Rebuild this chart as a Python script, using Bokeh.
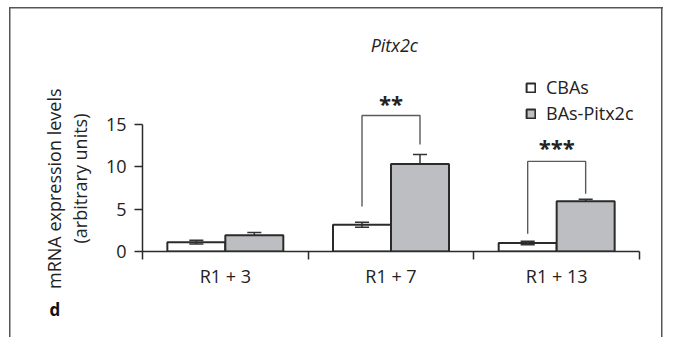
import numpy as np
from bokeh.plotting import figure
from bokeh.models import (Range1d, FixedTicker, Label, Legend, LegendItem, Title)
from bokeh.embed import file_html
from bokeh.resources import INLINE

# ---- data ----
categories = ["R1 + 3", "R1 + 7", "R1 + 13"]
cbas = [1.1, 3.15, 1.0]
cbas_err = [0.22, 0.3, 0.22]
bas = [1.9, 10.3, 5.9]
bas_err = [0.35, 1.12, 0.25]
y_ticks = [0, 5, 10, 15]
# significance brackets (per category): left foot, top, right foot, stars
sig_left = [None, 5.3, 2.1]
sig_top = [None, 16.0, 10.6]
sig_right = [None, 12.6, 6.8]
sig_text = ["", "**", "***"]
sig_label_y = [None, 17.5, 12.35]

FONT = "Open Sans"
BAR_W = 0.35
CAP = 0.085
GREY = "#bdbec1"
DARK = "#2b2b2b"
TXT = "#222222"

idx = np.arange(len(categories))
centers = idx + 0.5
x_c = centers - BAR_W / 2
x_b = centers + BAR_W / 2

frame_css = ("linear-gradient(#555,#555) 9px 7px / 1.5px 400px no-repeat, "
             "linear-gradient(#555,#555) 9px 7px / 654px 1.5px no-repeat, "
             "linear-gradient(#555,#555) 661px 7px / 1.5px 400px no-repeat, #ffffff")

p = figure(width=663, height=337, x_range=Range1d(0, 3), y_range=Range1d(0, 251 / 8.5),
           output_backend="svg", toolbar_location=None,
           min_border_left=142, min_border_right=24, min_border_top=0, min_border_bottom=86,
           styles={"background": frame_css})
p.grid.visible = False
p.outline_line_color = None
p.background_fill_color = None
p.border_fill_color = None

# ---- axes ----
yax = p.yaxis[0]
yax.ticker = FixedTicker(ticks=y_ticks, minor_ticks=[])
yax.bounds = (0, 15)
yax.major_tick_out = 8
yax.major_tick_in = 0
yax.minor_tick_line_color = None
yax.major_label_standoff = 8
yax.axis_line_color = DARK
yax.major_tick_line_color = DARK
yax.axis_line_width = 1.5
yax.major_tick_line_width = 1.5
yax.major_label_text_font = FONT
yax.major_label_text_font_size = "18px"
yax.major_label_text_color = TXT

xax = p.xaxis[0]
xax.ticker = FixedTicker(ticks=list(centers), minor_ticks=[0, 1, 2, 3])
xax.major_label_overrides = {float(c): lab for c, lab in zip(centers, categories)}
xax.major_tick_line_color = None
xax.major_tick_out = 0
xax.major_tick_in = 0
xax.minor_tick_out = 8
xax.minor_tick_in = 0
xax.minor_tick_line_color = DARK
xax.minor_tick_line_width = 1.5
xax.axis_line_color = DARK
xax.axis_line_width = 1.5
xax.major_label_standoff = 4
xax.major_label_text_font = FONT
xax.major_label_text_font_size = "18px"
xax.major_label_text_color = TXT

# ---- y axis label lines (as side titles) and panel letter ----
p.add_layout(Title(text=" ", text_font_size="1px", standoff=8), "left")
p.add_layout(Title(text="(arbitrary units)", align="right", offset=113, standoff=0,
                   text_font=FONT, text_font_size="18px", text_font_style="normal",
                   text_color=TXT), "left")
p.add_layout(Title(text="mRNA expression levels", align="right", offset=88, standoff=0,
                   text_font=FONT, text_font_size="18px", text_font_style="normal",
                   text_color=TXT), "left")
p.add_layout(Title(text="d", align="left", offset=-93, standoff=15, vertical_align="top",
                   text_font=FONT, text_font_size="17px", text_font_style="bold",
                   text_color="#111111"), "below")

# ---- error bars (BAs first so bar hides lower half) ----
def err_bars(xs, vals, errs):
    vals = np.array(vals); errs = np.array(errs)
    lo, hi = vals - errs, vals + errs
    p.segment(x0=xs, y0=lo, x1=xs, y1=hi, line_color="#333333", line_width=1.5)
    p.segment(x0=xs - CAP / 2, y0=hi, x1=xs + CAP / 2, y1=hi, line_color="#333333", line_width=1.5)
    p.segment(x0=xs - CAP / 2, y0=lo, x1=xs + CAP / 2, y1=lo, line_color="#333333", line_width=1.5)

err_bars(x_b, bas, bas_err)

r_c = p.vbar(x=x_c, top=cbas, width=BAR_W, bottom=0, fill_color="white",
             line_color=DARK, line_width=2)
r_b = p.vbar(x=x_b, top=bas, width=BAR_W, bottom=0, fill_color=GREY,
             line_color=DARK, line_width=2)

err_bars(x_c, cbas, cbas_err)

# ---- significance brackets ----
for i in idx:
    if sig_text[i]:
        xl, xr = x_c[i], x_b[i]
        p.line(x=[xl, xl, xr, xr], y=[sig_left[i], sig_top[i], sig_top[i], sig_right[i]],
               line_color="#5a5a5a", line_width=1.4)
        p.add_layout(Label(x=centers[i], y=sig_label_y[i], text=sig_text[i],
                           text_align="center", text_baseline="middle",
                           text_font=FONT, text_font_size="22px", text_font_style="bold",
                           text_color=TXT))

# ---- gene title ----
p.add_layout(Label(x=1.52, y=24.35, text="Pitx2c", text_align="center", text_baseline="middle",
                   text_font=FONT, text_font_size="18px", text_font_style="italic",
                   text_color=TXT))

# ---- legend ----
legend = Legend(items=[LegendItem(label="CBAs", renderers=[r_c]),
                       LegendItem(label="BAs-Pitx2c", renderers=[r_b])],
                location=(383, 126))
legend.glyph_width = 11
legend.glyph_height = 11
legend.label_standoff = 10
legend.label_height = 20
legend.spacing = 2
legend.padding = 0
legend.margin = 0
legend.border_line_color = None
legend.background_fill_alpha = 0
legend.label_text_font = FONT
legend.label_text_font_size = "18px"
legend.label_text_color = TXT
p.add_layout(legend)

open("out.html", "w").write(file_html(p, INLINE))
